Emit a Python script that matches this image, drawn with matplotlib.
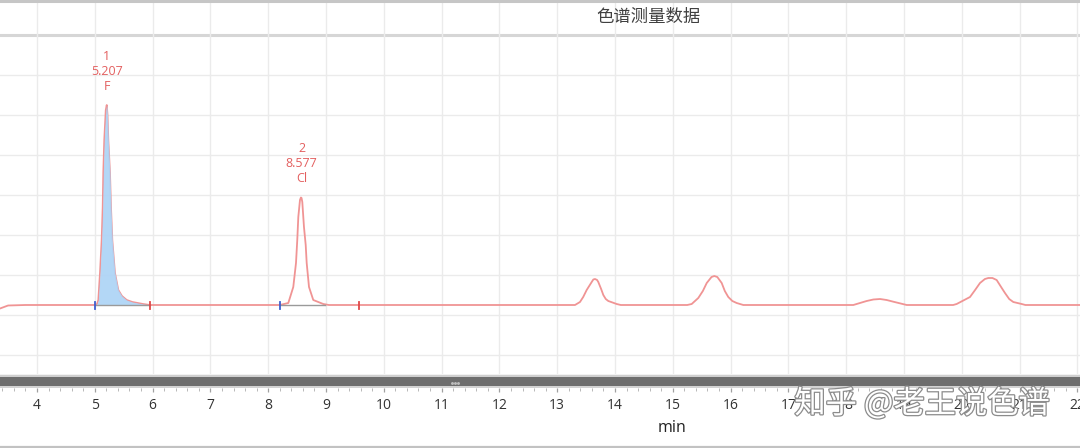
import matplotlib
matplotlib.use("Agg")
import matplotlib.pyplot as plt
import matplotlib.patheffects as pe
from matplotlib.lines import Line2D
import numpy as np

# ---------------- data ----------------
time_min = [3.36, 3.50, 3.80, 5.00, 5.04, 5.061, 5.090, 5.119, 5.137, 5.147, 5.164, 5.190,
            5.207, 5.220, 5.234, 5.263, 5.280, 5.303, 5.349, 5.407, 5.470, 5.552, 5.650,
            5.834, 5.950, 8.200, 8.348, 8.434, 8.481, 8.503, 8.521, 8.550, 8.566, 8.577,
            8.590, 8.619, 8.649, 8.666, 8.706, 8.780, 8.953, 9.050,
            13.308, 13.394, 13.450, 13.510, 13.597, 13.625, 13.654, 13.690, 13.711,
            13.760, 13.798, 13.840, 13.884, 14.029, 14.100,
            15.250, 15.327, 15.441, 15.520, 15.587, 15.670, 15.718, 15.770, 15.846,
            15.900, 15.960, 16.030, 16.105, 16.220,
            18.123, 18.354, 18.470, 18.585, 18.700, 18.815, 19.047,
            19.850, 19.911, 20.142, 20.230, 20.315, 20.400, 20.459, 20.530, 20.603,
            20.680, 20.747, 20.820, 20.891, 21.036, 21.100, 22.050]
signal = [-3.5, -0.5, 0, 0, 1, 5, 32, 65, 98, 132, 165, 195,
          200, 190, 165, 132, 98, 65, 32, 15, 9, 5, 3,
          1, 0, 0, 2, 18, 42, 65, 88, 105, 107.5, 107,
          103, 78, 60, 42, 18, 5, 1, 0,
          0, 3, 8, 15, 23, 25.5, 26, 25, 23,
          16, 10, 6, 4, 1, 0,
          0, 1, 7, 14, 22, 28, 29, 28, 22,
          14, 8, 4, 2, 0,
          0, 4, 5.5, 6, 5, 3.3, 0,
          0, 1, 8, 15, 22, 26, 27, 27, 25,
          18, 12, 6, 3, 1, 0, 0]

peak_numbers = ["1", "2"]
peak_times = [5.207, 8.577]
peak_heights = [200, 107.5]
peak_names = ["F", "Cl"]
integ_start = [5.00, 8.20]
integ_end = [5.95, 9.57]
baseline_gray_end = [5.95, 8.98]

x_ticks = list(range(4, 23))
title = "色谱测量数据"
x_label = "min"
watermark = "知乎 @老王说色谱"

# ---------------- layout helpers ----------------
W, H = 1080, 448
def fx(p): return p / W
def fy(p): return 1 - p / H

plt.rcParams['font.family'] = ['Noto Sans CJK SC', 'DejaVu Sans']

fig = plt.figure(figsize=(W / 100, H / 100), dpi=100)
fig.patch.set_facecolor("white")

# main plot area (pixel rows 2..377), baseline sits at pixel row 305
ax = fig.add_axes([0, fy(377), 1, (377 - 2) / H])
ax.set_xlim(3.36, 22.045)
ax.set_ylim(305 - 377, 305 - 2)
for s in ax.spines.values():
    s.set_visible(False)
ax.set_xticks(x_ticks)
ax.set_yticks([-50, -10, 30, 70, 110, 150, 190, 230])
ax.tick_params(length=0, labelbottom=False, labelleft=False)
ax.grid(True, color="#ebebeb", lw=1.0, zorder=0)

# title separator
ax.axhspan(305 - 35, 303, color="white", alpha=0.7, zorder=1)
ax.axhline(305 - 35, color="#d6d6d6", lw=2.2, zorder=1)

t = np.array(time_min)
y = np.array(signal)
trace_color = "#f09494"
ax.plot(t, y, color=trace_color, lw=1.3, zorder=3, solid_joinstyle="round")

# filled peak 1
m = (t >= integ_start[0]) & (t <= integ_end[0])
ax.fill_between(t[m], 0, y[m], color="#aed4f6", lw=0, zorder=4, alpha=0.93)

# gray integration baselines and markers
for a, b, e in zip(integ_start, baseline_gray_end, integ_end):
    ax.plot([a, b], [0, 0], color="#9a9a9a", lw=1.0, zorder=5)
    ax.plot([a, a], [-3.5, 3.5], color="#3f5fd0", lw=1.3, zorder=6)
    ax.plot([e, e], [-3.5, 3.5], color="#e04848", lw=1.3, zorder=6)

label_color = "#e35f5f"
for n, pt, ph, nm in zip(peak_numbers, peak_times, peak_heights, peak_names):
    ax.annotate(f"{n}\n{pt:.3f}\n{nm}", xy=(pt, ph), xytext=(0, 9),
                textcoords="offset points", ha="center", va="bottom",
                fontsize=9, color=label_color, linespacing=1.2,
                family=["Open Sans", "DejaVu Sans"], zorder=7)

# axis strip with scrollbar band and ticks
ax2 = fig.add_axes([0, fy(388), 1, (388 - 374) / H])
ax2.set_xlim(ax.get_xlim())
ax2.set_ylim(388, 374)
ax2.patch.set_alpha(0)
for s in ax2.spines.values():
    s.set_visible(False)
ax2.axhspan(374, 388, color="#f2f2f2", lw=0)
ax2.axhline(375.6, color="#cfcfcf", lw=1.4)
ax2.axhspan(377, 386, color="#6e6e6e", lw=0)
ax2.axhline(387.2, color="#cdcdcd", lw=1.2)
ax2.set_xticks(x_ticks)
ax2.set_xticks(np.arange(3.4, 22.05, 0.2), minor=True)
ax2.tick_params(axis="x", which="major", direction="out", length=3.0, width=0.9,
                color="#a0a0a0", labelsize=10, labelcolor="#333333", pad=4.2)
ax2.tick_params(axis="x", which="minor", direction="out", length=1.8, width=0.7,
                color="#b8b8b8")
for lab in ax2.get_xticklabels():
    lab.set_family(["Open Sans", "DejaVu Sans"])
ax2.set_yticks([])
# grip dots
for dx in (-3, 0, 3):
    fig.add_artist(Line2D([fx(455 + dx)], [fy(382.5)], marker="o", ms=1.1,
                          color="#bdbdbd", lw=0))

# frame lines
fig.add_artist(Line2D([0, 1], [fy(1.2), fy(1.2)], color="#c6c6c6", lw=2.2))
fig.add_artist(Line2D([0, 1], [fy(447.2), fy(447.2)], color="#c2c2c2", lw=1.6))

fig.text(fx(648), fy(17), title, ha="center", va="center", fontsize=12.5,
         color="#404040")
fig.text(fx(672), fy(428), x_label, ha="center", va="center", fontsize=11.5,
         color="#222222", family=["Open Sans", "DejaVu Sans"])

fig.text(fx(922), fy(404), watermark, ha="center", va="center", fontsize=22.5,
         color="white", family=["Noto Sans CJK SC", "DejaVu Sans"], zorder=20,
         path_effects=[pe.withStroke(linewidth=1.8, foreground="#8c8c8c")])

fig.savefig("out.png", dpi=100, facecolor="white")
